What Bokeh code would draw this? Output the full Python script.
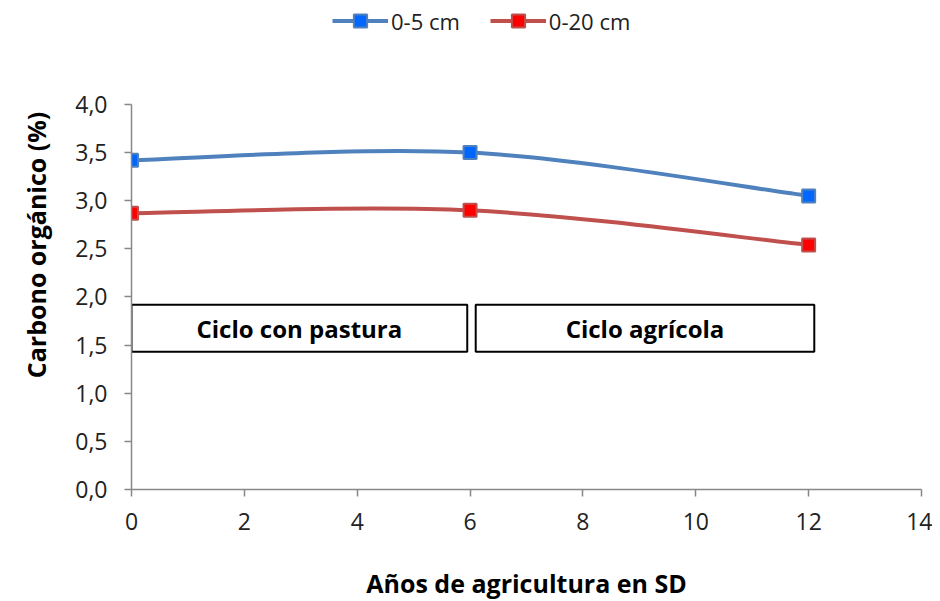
from bokeh.plotting import figure
from bokeh.models import (Range1d, Legend, LegendItem, FixedTicker,
                          CustomJSTickFormatter, ColumnDataSource)
from bokeh.core.properties import value
from bokeh.embed import file_html
from bokeh.resources import INLINE

# ---- data ----
years = [0, 6, 12]
carbon_0_5 = [3.42, 3.50, 3.05]
carbon_0_20 = [2.87, 2.90, 2.54]
series_names = ["0-5 cm", "0-20 cm"]

cycle_labels = ["Ciclo con pastura", "Ciclo agrícola"]
cycle_start = [0.0, 6.1]
cycle_end = [5.95, 12.1]
cycle_low = [1.43, 1.43]
cycle_high = [1.92, 1.92]

x_ticks = [0, 2, 4, 6, 8, 10, 12, 14]
y_ticks = [0.0, 0.5, 1.0, 1.5, 2.0, 2.5, 3.0, 3.5, 4.0]

FONT = "Open Sans"

# y range extends above 4 to leave room for the legend inside the frame;
# the axis itself is bounded to 0..4
p = figure(frame_width=790, frame_height=489, output_backend="svg",
           toolbar_location=None,
           x_range=Range1d(0, 14), y_range=Range1d(0, 5.08),
           min_border_left=131, min_border_right=11,
           min_border_top=0, min_border_bottom=104)
p.outline_line_color = None
p.xgrid.visible = False
p.ygrid.visible = False


def smooth_segments(xs, ys):
    """Excel-like smoothed line as cubic Bezier segments (control points from data)."""
    n = len(xs)
    segs = dict(x0=[], y0=[], x1=[], y1=[], cx0=[], cy0=[], cx1=[], cy1=[])
    for i in range(n - 1):
        ip = max(i - 1, 0)
        inn = min(i + 2, n - 1)
        segs["x0"].append(xs[i]); segs["y0"].append(ys[i])
        segs["x1"].append(xs[i + 1]); segs["y1"].append(ys[i + 1])
        segs["cx0"].append(xs[i] + (xs[i + 1] - xs[ip]) / 6)
        segs["cy0"].append(ys[i] + (ys[i + 1] - ys[ip]) / 6)
        segs["cx1"].append(xs[i + 1] - (xs[inn] - xs[i]) / 6)
        segs["cy1"].append(ys[i + 1] - (ys[inn] - ys[i]) / 6)
    return ColumnDataSource(segs)


styles = [
    (carbon_0_5, "#4F81BD", "#0066FF"),
    (carbon_0_20, "#C0504D", "#FF0000"),
]
items = []
for (vals, lc, fc), name in zip(styles, series_names):
    src = smooth_segments(years, vals)
    b = p.bezier(x0="x0", y0="y0", x1="x1", y1="y1", cx0="cx0", cy0="cy0",
                 cx1="cx1", cy1="cy1", source=src, line_color=lc, line_width=4)
    s = p.scatter(years, vals, marker="square", size=13, fill_color=fc,
                  line_color=lc, line_width=2)
    items.append(LegendItem(label=name, renderers=[b, s]))

# cycle boxes
p.quad(left=cycle_start, right=cycle_end, bottom=cycle_low, top=cycle_high,
       fill_color="white", line_color="black", line_width=2)
cx = [(a + b) / 2 for a, b in zip(cycle_start, cycle_end)]
cy = [(a + b) / 2 for a, b in zip(cycle_low, cycle_high)]
p.text(x=cx, y=cy, text=cycle_labels, text_align="center", text_baseline="middle",
       text_font=value(FONT), text_font_style="bold", text_font_size="24px",
       text_color="black")

legend = Legend(items=items, location=(201, 452), orientation="horizontal",
                glyph_width=56, glyph_height=33, label_standoff=3, spacing=30,
                padding=0, margin=0, border_line_color=None,
                background_fill_alpha=0,
                label_text_font=FONT, label_text_font_size="22px",
                label_text_color="#222222")
p.add_layout(legend, "center")

for ax in (p.xaxis[0], p.yaxis[0]):
    ax.axis_line_color = "#888888"
    ax.axis_line_width = 1.5
    ax.major_tick_line_color = "#888888"
    ax.major_tick_line_width = 1.5
    ax.major_tick_out = 7
    ax.major_tick_in = 0
    ax.minor_tick_line_color = None
    ax.major_label_text_font = FONT
    ax.major_label_text_font_size = "23px"
    ax.major_label_text_color = "#222222"
    ax.axis_label_text_font = FONT
    ax.axis_label_text_font_style = "bold"
    ax.axis_label_text_font_size = "25px"
    ax.axis_label_text_color = "black"

p.yaxis.bounds = (0, 4)
p.xaxis.ticker = FixedTicker(ticks=x_ticks)
p.yaxis.ticker = FixedTicker(ticks=y_ticks)
p.yaxis.formatter = CustomJSTickFormatter(code="return tick.toFixed(1).replace('.', ',');")
p.xaxis.axis_label = "Años de agricultura en SD"
p.yaxis.axis_label = "Carbono orgánico (%)"
p.xaxis.major_label_standoff = 16
p.yaxis.major_label_standoff = 17
p.xaxis.axis_label_standoff = 33
p.yaxis.axis_label_standoff = 19

open("out.html", "w").write(file_html(p, INLINE))
